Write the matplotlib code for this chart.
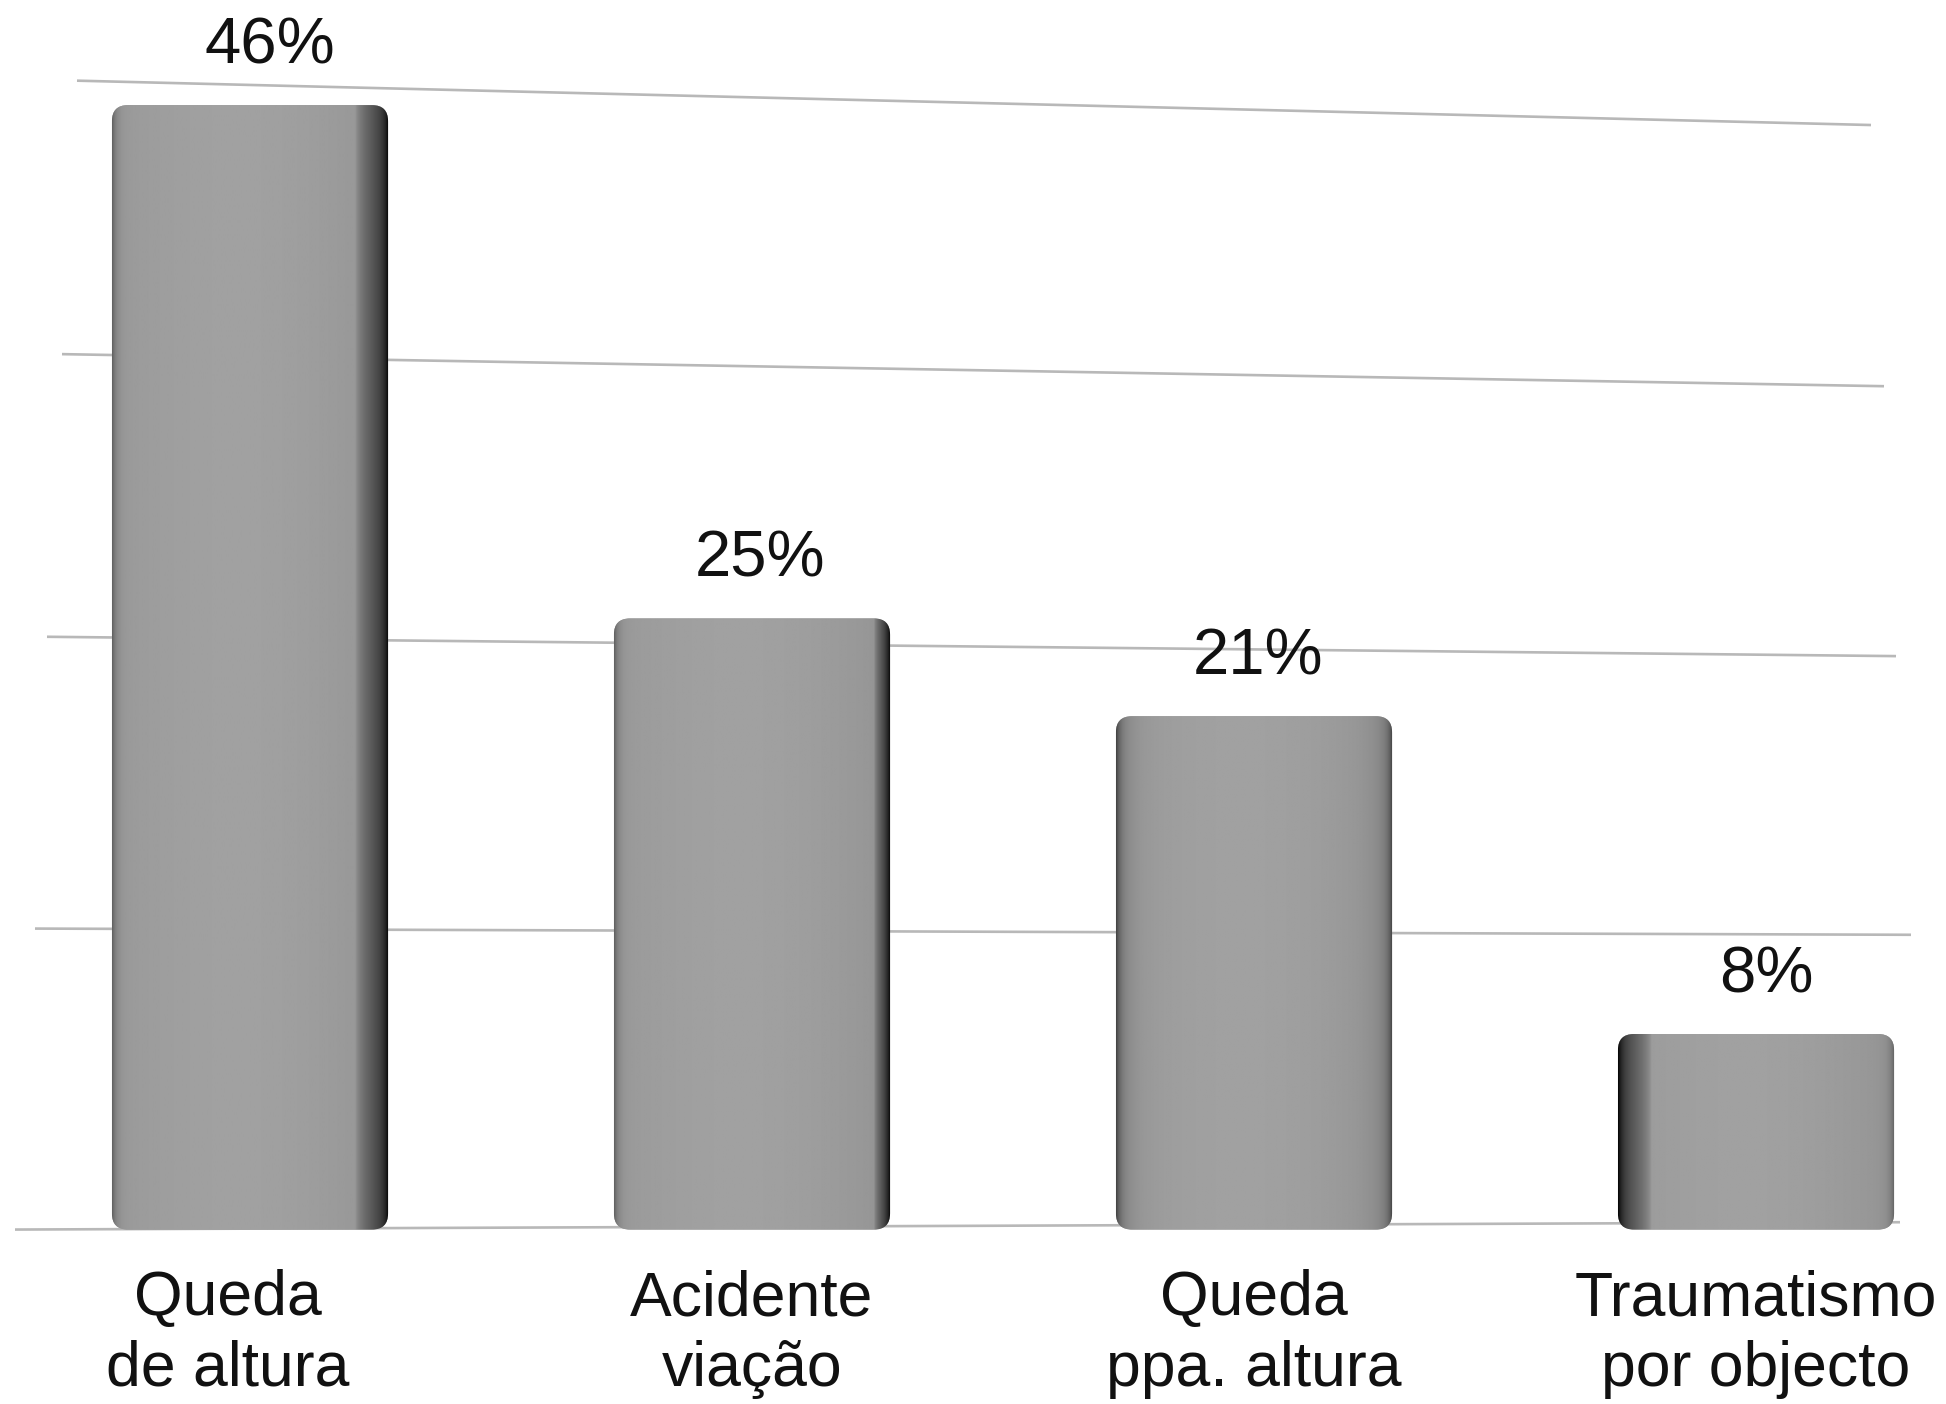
import numpy as np
import matplotlib
matplotlib.use("Agg")
import matplotlib.pyplot as plt
from matplotlib.patches import FancyBboxPatch

# ---- data ----
categories = ["Queda\nde altura", "Acidente\nviação", "Queda\nppa. altura", "Traumatismo\npor objecto"]
values = [46, 25, 21, 8]
value_labels = ["46%", "25%", "21%", "8%"]
grid_values = [0, 12.5, 25, 37.5, 50]

# ---- style ----
plt.rcParams['font.family'] = ['Liberation Sans', 'DejaVu Sans']
W, H = 1946, 1404
STEP, X0 = 502.0, 250.0          # px per category, px of first category
side_shade = [1.0, 0.5, 0.0, -1.0]  # which side of each bar shows the dark face
grid_left_px = [15, 35, 47, 62, 77]
grid_right_px = [1900, 1911, 1896, 1884, 1871]
label_shift_px = [-22, 0, 0, 0]
value_shift_px = [20, 8, 4, 10]

fig = plt.figure(figsize=(W / 100, H / 100), dpi=100)
ax = fig.add_axes([15 / W, (H - 1254) / H, (W - 15) / W, 1254 / H])
xlim = ((15 - X0) / STEP, (W - X0) / STEP)
ylim = (-1, 50.3)

# perspective-like slanted grid lines on the back wall
for g, lp, rp in zip(grid_values, grid_left_px, grid_right_px):
    yl = g * (1 - 0.0012 * g)
    yr = 0.3 + yl * 0.955
    ax.plot([(lp - X0) / STEP, (rp - X0) / STEP], [yl, yr],
            color="#b8b8b8", lw=1.9, zorder=1, solid_capstyle="butt")

# bars
bars = ax.bar(range(len(values)), values, width=0.55, color="none", edgecolor="none")

u = np.linspace(0, 1, 400)


def profile(s):
    b = 0.60 + 0.04 * np.sin(np.pi * u) - 0.02 * u
    b = b - 0.22 * np.exp(-u / 0.015) - 0.22 * np.exp(-(1 - u) / 0.015)
    if s > 0:
        ws = 0.12 * s
        t = np.clip((u - (1 - ws)) / ws, 0, 1)
        b = b - 0.36 * (t ** 0.6)
    elif s < 0:
        ws = 0.12 * (-s)
        t = np.clip(((ws) - u) / ws, 0, 1)
        b = b - 0.36 * (t ** 0.6)
    else:
        b = b - 0.12 * np.exp(-u / 0.05) - 0.12 * np.exp(-(1 - u) / 0.05)
    return np.clip(b, 0, 1)


px_x = STEP          # px per x unit
px_y = 1254 / (ylim[1] - ylim[0])
rs = 0.032
for rect, s in zip(bars, side_shade):
    x, y, w, h = rect.get_x(), rect.get_y(), rect.get_width(), rect.get_height()
    patch = FancyBboxPatch((x, y), w, h,
                           boxstyle=f"round,pad=0,rounding_size={rs}",
                           mutation_aspect=(px_x / px_y),
                           facecolor="#969696", edgecolor="none", zorder=2)
    ax.add_patch(patch)
    img = np.tile(profile(s), (2, 1))
    im = ax.imshow(img, extent=[x, x + w, y, y + h], aspect="auto", cmap="gray",
                   vmin=0, vmax=1, zorder=3, interpolation="bilinear", origin="lower")
    im.set_clip_path(patch)

for i, (v, lab, dx) in enumerate(zip(values, value_labels, value_shift_px)):
    ax.annotate(lab, xy=(i, v + 1.7), xytext=(dx, 0), textcoords="offset pixels",
                ha="center", va="baseline", fontsize=47, color="#111111", zorder=5)

# category labels below the bars
for i, (cat, dx) in enumerate(zip(categories, label_shift_px)):
    ax.annotate(cat, xy=(i, 0), xycoords=("data", "axes fraction"),
                xytext=(dx, -15), textcoords="offset pixels",
                ha="center", va="top", fontsize=45, color="#111111",
                linespacing=1.26, annotation_clip=False)

ax.set_xlim(*xlim)
ax.set_ylim(*ylim)
ax.set_xticks([])
ax.set_yticks([])
for sp in ax.spines.values():
    sp.set_visible(False)

fig.savefig("out.png", dpi=100, facecolor="white")
